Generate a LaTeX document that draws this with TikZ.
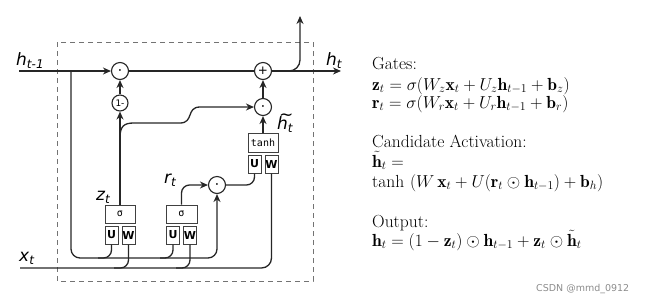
\documentclass[tikz,border=0pt]{standalone}
\usepackage{fontspec}
\usepackage{amsmath,amssymb}
\usetikzlibrary{arrows.meta,calc}
\newfontfamily\djs{DejaVu Sans}
\newfontfamily\djm{DejaVu Sans Mono}
\newcommand{\glab}[2]{{\djs\itshape\fontsize{17}{17}\selectfont #1\raisebox{-3.5pt}{\fontsize{12}{12}\selectfont #2}}}
\begin{document}
\begin{tikzpicture}[x=1pt,y=-1pt,
  wire/.style={line width=1.3pt,draw=black!85},
  arr/.style={wire,-{Stealth[length=8pt,width=7pt]}},
  op/.style={circle,draw=black!85,line width=1.1pt,fill=white,minimum size=17pt,inner sep=0pt,font=\djs\fontsize{12}{12}\selectfont},
  gbox/.style={rectangle,draw=black!75,line width=1pt,fill=white,inner sep=0pt,font=\djm\fontsize{10}{10}\selectfont},
  wbox/.style={gbox,minimum width=13pt,minimum height=18pt,font=\djs\bfseries\fontsize{11}{11}\selectfont},
  eq/.style={anchor=base west,inner sep=0pt,font=\fontsize{17.5}{17.5}\selectfont}]
\useasboundingbox (0,0) rectangle (650,301);
% dashed cell
\draw[black!55,line width=1pt,dash pattern=on 5pt off 4pt] (57,42) rectangle (313,281);
% operators
\node[op] (mt) at (120,71) {$\boldsymbol{\cdot}$};
\node[op] (plus) at (263,71) {+};
\node[op,minimum size=16pt,font=\djs\fontsize{9}{9}\selectfont] (one) at (120,103) {1-};
\node[op] (mh) at (263,107) {$\boldsymbol{\cdot}$};
\node[op] (mr) at (217,185) {$\boldsymbol{\cdot}$};
% gate boxes
\node[gbox,minimum width=30pt,minimum height=19pt] (tanh) at (263,143) {tanh};
\node[wbox] (tU) at (254.5,164) {U};
\node[wbox] (tW) at (271.5,164) {W};
\node[gbox,minimum width=30pt,minimum height=18pt] (zs) at (120,214) {σ};
\node[wbox] (zU) at (111.5,235) {U};
\node[wbox] (zW) at (128.5,235) {W};
\node[gbox,minimum width=31pt,minimum height=18pt] (rs) at (181.5,214) {σ};
\node[wbox] (rU) at (173,235) {U};
\node[wbox] (rW) at (190,235) {W};
% coordinates
\coordinate (hin) at (19,71);
\coordinate (hj) at (71,71);
\coordinate (hout) at (341,71);
\coordinate (outtop) at (300,16);
\coordinate (busend) at (217,258);
\coordinate (bzu) at (98,258);
\coordinate (bru) at (160,258);
\coordinate (xin) at (20,268);
\coordinate (xzw) at (114,268);
\coordinate (xrw) at (176,268);
\coordinate (zb) at (120,138);
\coordinate (zb1) at (134,123);
\coordinate (zb2) at (180,123);
\coordinate (zb3) at (200,107);
% wires
\draw[arr] (hin) -- (mt.west);
\draw[wire] (mt.east) -- (plus.west);
\draw[arr] (plus.east) -- (hout);
\draw[arr,rounded corners=11pt] (plus.east) -| (outtop);
\draw[arr,rounded corners=9pt] (hj) |- (busend) -- (mr.south);
\draw[wire,rounded corners=8pt] (bzu) -| (zU.south);
\draw[wire,rounded corners=8pt] (bru) -| (rU.south);
\draw[wire,rounded corners=10pt] (xin) -| (tW.south);
\draw[wire,rounded corners=8pt] (xzw) -| (zW.south);
\draw[wire,rounded corners=8pt] (xrw) -| (rW.south);
\draw[arr] (zs.north) -- (one.south);
\draw[arr] (one.north) -- (mt.south);
\draw[arr] (zb) .. controls (120,126) and (124,123) .. (zb1) -- (zb2) .. controls (194,123) and (186,107) .. (zb3) -- (mh.west);
\draw[arr] (mh.north) -- (plus.south);
\draw[arr] (tanh.north) -- (mh.south);
\draw[arr,rounded corners=8pt] (rs.north) |- (mr.west);
\draw[wire,rounded corners=8pt] (mr.east) -| (tU.south);
% diagram labels
\node[anchor=base west,inner sep=0pt] (lh1) at (16,65) {\glab{h}{t-1}};
\node[anchor=base west,inner sep=0pt] (lht) at (326,65) {\glab{h}{t}};
\node[anchor=base west,inner sep=0pt] (lxt) at (19,261) {\glab{x}{t}};
\node[anchor=base west,inner sep=0pt] (lzt) at (96,200) {\glab{z}{t}};
\node[anchor=base west,inner sep=0pt] (lrt) at (164,183) {\glab{r}{t}};
\node[anchor=base west,inner sep=0pt] (lhh) at (277,129) {\glab{\rlap{\raisebox{9pt}{\hspace{2pt}\textasciitilde}}h}{t}};
% equations
\node[eq] (g) at (372,69) {Gates:};
\node[eq] (e1) at (372,90) {$\mathbf{z}_t=\sigma(W_z\mathbf{x}_t+U_z\mathbf{h}_{t-1}+\mathbf{b}_z)$};
\node[eq] (e2) at (372,108) {$\mathbf{r}_t=\sigma(W_r\mathbf{x}_t+U_r\mathbf{h}_{t-1}+\mathbf{b}_r)$};
\node[eq] (c) at (372,147) {Candidate Activation:};
\node[eq] (e3) at (372,167) {$\tilde{\mathbf{h}}_t=$};
\node[eq] (e4) at (372,187) {$\tanh\,\left(W\,\mathbf{x}_t+U(\mathbf{r}_t\odot\mathbf{h}_{t-1})+\mathbf{b}_h\right)$};
\node[eq] (o) at (372,227) {Output:};
\node[eq] (e5) at (372,246) {$\mathbf{h}_t=(1-\mathbf{z}_t)\odot\mathbf{h}_{t-1}+\mathbf{z}_t\odot\tilde{\mathbf{h}}_t$};
\node[anchor=base west,inner sep=0pt,text=black!45,font=\djs\fontsize{9.5}{9.5}\selectfont] (wm) at (536,291) {CSDN @mmd\_0912};
\end{tikzpicture}
\end{document}
